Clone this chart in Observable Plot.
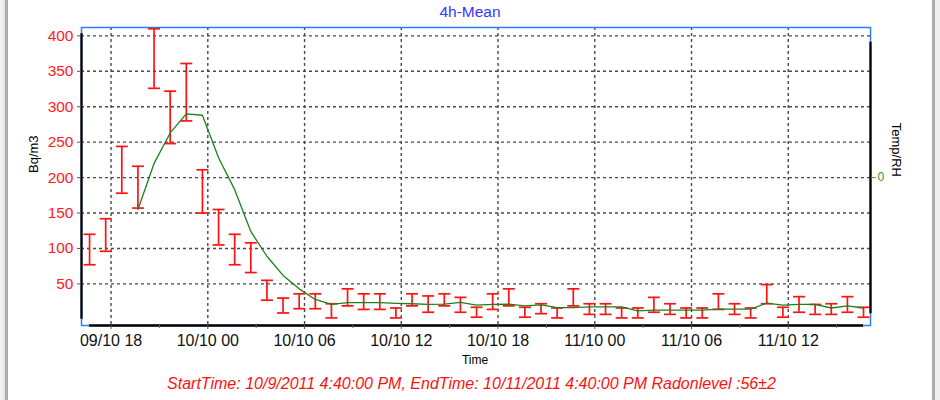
<!DOCTYPE html>
<html>
<head>
<meta charset="utf-8">
<script src="https://cdn.jsdelivr.net/npm/d3@7"></script>
<script src="https://cdn.jsdelivr.net/npm/@observablehq/plot@0.6"></script>
<style>
  html, body { margin: 0; padding: 0; background: #ffffff; }
  #wrap { position: relative; width: 940px; height: 400px; overflow: hidden; background: #ffffff; }
  #wrap svg { position: absolute; left: 0; top: 0; }
  .edge { position: absolute; top: 0; height: 400px; pointer-events: none; }
</style>
</head>
<body>
<div id="wrap">
  <div class="edge" style="left:0;width:5px;background:linear-gradient(to right,#f6f6f6,#e2e2e2);"></div>
  <div class="edge" style="left:5px;width:3px;background:#ababab;"></div>
  <div class="edge" style="left:932px;width:3px;background:#ababab;"></div>
  <div class="edge" style="left:935px;width:5px;background:#eeeeee;"></div>
</div>
<script>
// ---- data ----
const times = [
  "2011-10-09T16:40Z","2011-10-09T17:40Z","2011-10-09T18:40Z","2011-10-09T19:40Z","2011-10-09T20:40Z",
  "2011-10-09T21:40Z","2011-10-09T22:40Z","2011-10-09T23:40Z","2011-10-10T00:40Z","2011-10-10T01:40Z",
  "2011-10-10T02:40Z","2011-10-10T03:40Z","2011-10-10T04:40Z","2011-10-10T05:40Z","2011-10-10T06:40Z",
  "2011-10-10T07:40Z","2011-10-10T08:40Z","2011-10-10T09:40Z","2011-10-10T10:40Z","2011-10-10T11:40Z",
  "2011-10-10T12:40Z","2011-10-10T13:40Z","2011-10-10T14:40Z","2011-10-10T15:40Z","2011-10-10T16:40Z",
  "2011-10-10T17:40Z","2011-10-10T18:40Z","2011-10-10T19:40Z","2011-10-10T20:40Z","2011-10-10T21:40Z",
  "2011-10-10T22:40Z","2011-10-10T23:40Z","2011-10-11T00:40Z","2011-10-11T01:40Z","2011-10-11T02:40Z",
  "2011-10-11T03:40Z","2011-10-11T04:40Z","2011-10-11T05:40Z","2011-10-11T06:40Z","2011-10-11T07:40Z",
  "2011-10-11T08:40Z","2011-10-11T09:40Z","2011-10-11T10:40Z","2011-10-11T11:40Z","2011-10-11T12:40Z",
  "2011-10-11T13:40Z","2011-10-11T14:40Z","2011-10-11T15:40Z","2011-10-11T16:40Z"
];
// radon error bars (upper / lower ends), Bq/m3
const upper = [120,142,244,216,410,322,361,211,155,120,108,55,30,36,36,22,43,36,36,16,36,33,36,31,17,36,43,17,22,16,43,22,22,16,16,31,22,16,16,36,22,16,49,17,32,21,22,32,17];
const lower = [77,96,178,157,326,248,280,150,105,77,66,27,9,15,15,2,19,14,14,2,19,10,19,10,3,14,19,3,8,2,19,7,7,2,2,10,7,2,2,14,7,2,22,3,10,7,7,10,3];
// green 4h-mean line
const mean4h = [null,null,null,155,220,263,290,288,228,183,124,89,62,43,28,21,23.5,23.5,23.5,22.5,22,21,21.5,24,20,21,21.5,19,20.5,16.5,16.5,17.5,17.5,17.5,12,13,13,13,13,14.5,14.5,14.5,23,20,21,21,16,19,16];

const yTicks = [50,100,150,200,250,300,350,400];
const xTicks = ["2011-10-09T18:00Z","2011-10-10T00:00Z","2011-10-10T06:00Z","2011-10-10T12:00Z",
                "2011-10-10T18:00Z","2011-10-11T00:00Z","2011-10-11T06:00Z","2011-10-11T12:00Z"];
const minorTicks = ["2011-10-09T21:00Z","2011-10-10T03:00Z","2011-10-10T09:00Z","2011-10-10T15:00Z",
                    "2011-10-10T21:00Z","2011-10-11T03:00Z","2011-10-11T09:00Z","2011-10-11T15:00Z"];
const rightTicks = [200];
const rightTickLabels = ["0"];

const titleText = "4h-Mean";
const yLabel = "Bq/m3";
const xLabel = "Time";
const rightLabel = "Temp/RH";
const footerText = "StartTime: 10/9/2011 4:40:00 PM, EndTime: 10/11/2011 4:40:00 PM Radonlevel :56\u00b12";

// ---- table built from arrays ----
const rows = times.map((t, i) => ({t: new Date(t), hi: upper[i], lo: lower[i], mean: mean4h[i]}));
const xT = xTicks.map(d => new Date(d));
const mT = minorTicks.map(d => new Date(d));
const xDomain = [new Date("2011-10-09T16:10Z"), new Date("2011-10-11T17:06Z")];
const yDomain = [-8.7, 411.8];
const tFirst = rows[0].t, tLast = rows[rows.length - 1].t;

const fmt = d3.utcFormat("%d/%m %H");
const capSymbol = { draw(ctx) { ctx.moveTo(-6, 0); ctx.lineTo(6, 0); } };
const RED = "#ff1212";
const FONT = '"Liberation Sans", Arial, sans-serif';

const chart = Plot.plot({
  width: 940,
  height: 400,
  marginLeft: 81,
  marginRight: 70,
  marginTop: 27,
  marginBottom: 75,
  style: {fontFamily: FONT, fontSize: "15.5px", background: "transparent", overflow: "visible"},
  x: {type: "utc", domain: xDomain},
  y: {domain: yDomain},
  marks: [
    Plot.gridY({ticks: yTicks, stroke: "#4a4a4a", strokeOpacity: 1, strokeWidth: 1.4, strokeDasharray: "3,3"}),
    Plot.gridX({ticks: xT, stroke: "#4a4a4a", strokeOpacity: 1, strokeWidth: 1.4, strokeDasharray: "3,3"}),
    Plot.frame({stroke: "#2a7dff", strokeWidth: 1.5}),
    // error bars
    Plot.ruleX(rows, {x: "t", y1: "lo", y2: "hi", stroke: RED, strokeWidth: 1.7}),
    Plot.dot(rows, {x: "t", y: "hi", symbol: capSymbol, stroke: RED, strokeWidth: 1.7, fill: "none"}),
    Plot.dot(rows, {x: "t", y: "lo", symbol: capSymbol, stroke: RED, strokeWidth: 1.7, fill: "none"}),
    // 4h mean line
    Plot.line(rows.filter(d => d.mean != null), {x: "t", y: "mean", stroke: "#1d801d", strokeWidth: 1.3}),
    // black axis lines
    Plot.ruleX([xDomain[0]], {y1: 0, y2: 403, stroke: "#000", strokeWidth: 2.3}),
    Plot.ruleX([xDomain[1]], {y1: 8, y2: 391, stroke: "#000", strokeWidth: 2.3}),
    Plot.ruleY([yDomain[0]], {x1: tFirst, x2: tLast, stroke: "#000", strokeWidth: 2.6}),
    // axes
    Plot.axisY({ticks: yTicks, tickSize: 4, tickPadding: 4, stroke: "#555", fill: "#ff1a1a", fontSize: 15.5, label: null}),
    Plot.axisY({anchor: "right", ticks: rightTicks, tickSize: 5, tickPadding: 2, stroke: "#777",
                fill: "#2a9a3a", fontSize: 12, tickFormat: (d, i) => rightTickLabels[i], label: null}),
    Plot.axisX({ticks: xT, tickSize: 4, tickPadding: 5, stroke: "#555", fill: "#111", fontSize: 16,
                tickFormat: fmt, label: null}),
    Plot.axisX({ticks: mT, tickSize: 3, stroke: "#666", tickFormat: () => "", label: null}),
    // texts
    Plot.text([titleText], {frameAnchor: "top", dx: -6, dy: -11, lineAnchor: "bottom", fill: "#3434ff", fontSize: 15.5}),
    Plot.text([yLabel], {frameAnchor: "left", rotate: -90, dx: -48, dy: -3.5, fill: "#000", fontSize: 13}),
    Plot.text([xLabel], {frameAnchor: "bottom", dx: -1, dy: 38, lineAnchor: "bottom", fill: "#000", fontSize: 12}),
    Plot.text([rightLabel], {frameAnchor: "right", rotate: 90, dx: 26, dy: 0.5, fill: "#000", fontSize: 13}),
    Plot.text([footerText], {frameAnchor: "bottom", dx: -4.5, dy: 63, lineAnchor: "bottom", fill: "#ff1010",
                             fontStyle: "italic", fontSize: 16})
  ]
});
document.getElementById("wrap").insertBefore(chart, document.getElementById("wrap").firstChild);
</script>
</body>
</html>
